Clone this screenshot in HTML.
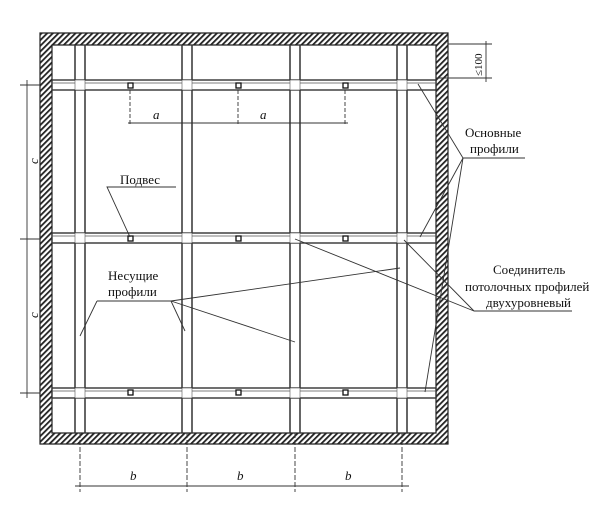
<!DOCTYPE html>
<html><head><meta charset="utf-8"><style>body{margin:0;background:#fff}svg{display:block}</style></head>
<body>
<svg width="608" height="508" viewBox="0 0 608 508" xmlns="http://www.w3.org/2000/svg" font-family="Liberation Serif, serif">
<defs>
<pattern id="h" width="4" height="4" patternUnits="userSpaceOnUse" patternTransform="rotate(45)">
<rect width="4" height="4" fill="#fff"/><rect width="1.8" height="4" fill="#222"/></pattern>
</defs>
<path d="M40 33H448V444H40Z M52 45V433H436V45Z" fill="url(#h)" fill-rule="evenodd" stroke="#222" stroke-width="1.2"/>
<g stroke="#333" stroke-width="1.5" fill="none">
<line x1="75" y1="45" x2="75" y2="433"/><line x1="85" y1="45" x2="85" y2="433"/>
<line x1="182" y1="45" x2="182" y2="433"/><line x1="192" y1="45" x2="192" y2="433"/>
<line x1="290" y1="45" x2="290" y2="433"/><line x1="300" y1="45" x2="300" y2="433"/>
<line x1="397" y1="45" x2="397" y2="433"/><line x1="407" y1="45" x2="407" y2="433"/>
</g>
<g fill="#fff" stroke="#333" stroke-width="1.4">
<rect x="52" y="80" width="384" height="10"/>
<rect x="52" y="233" width="384" height="10"/>
<rect x="52" y="388" width="384" height="10"/>
</g>
<g stroke="#555" stroke-width="0.8">
<line x1="52" y1="83" x2="436" y2="83"/><line x1="52" y1="236" x2="436" y2="236"/><line x1="52" y1="391" x2="436" y2="391"/>
</g>
<g fill="#fff" stroke="#555" stroke-width="0.6">
<rect x="75" y="80" width="10" height="10"/><rect x="182" y="80" width="10" height="10"/><rect x="290" y="80" width="10" height="10"/><rect x="397" y="80" width="10" height="10"/>
<rect x="75" y="233" width="10" height="10"/><rect x="182" y="233" width="10" height="10"/><rect x="290" y="233" width="10" height="10"/><rect x="397" y="233" width="10" height="10"/>
<rect x="75" y="388" width="10" height="10"/><rect x="182" y="388" width="10" height="10"/><rect x="290" y="388" width="10" height="10"/><rect x="397" y="388" width="10" height="10"/>
</g>
<g fill="#fff" stroke="#111" stroke-width="1.3">
<rect x="128" y="83" width="5" height="5"/><rect x="236" y="83" width="5" height="5"/><rect x="343" y="83" width="5" height="5"/>
<rect x="128" y="236" width="5" height="5"/><rect x="236" y="236" width="5" height="5"/><rect x="343" y="236" width="5" height="5"/>
<rect x="128" y="390" width="5" height="5"/><rect x="236" y="390" width="5" height="5"/><rect x="343" y="390" width="5" height="5"/>
</g>
<g stroke="#333" stroke-width="0.9" fill="none">
<line x1="128" y1="123" x2="348" y2="123"/>
<line x1="130" y1="90" x2="130" y2="126" stroke-dasharray="4 2"/>
<line x1="238" y1="90" x2="238" y2="126" stroke-dasharray="4 2"/>
<line x1="345" y1="90" x2="345" y2="126" stroke-dasharray="4 2"/>
<line x1="27" y1="80" x2="27" y2="398"/>
<line x1="20" y1="85" x2="40" y2="85"/><line x1="20" y1="239" x2="40" y2="239"/><line x1="20" y1="393" x2="40" y2="393"/>
<line x1="75" y1="486" x2="409" y2="486"/>
<line x1="80" y1="433" x2="80" y2="492" stroke-dasharray="5 2"/>
<line x1="187" y1="433" x2="187" y2="492" stroke-dasharray="5 2"/>
<line x1="295" y1="433" x2="295" y2="492" stroke-dasharray="5 2"/>
<line x1="402" y1="433" x2="402" y2="492" stroke-dasharray="5 2"/>
<line x1="486" y1="41" x2="486" y2="82"/>
<line x1="448" y1="44" x2="492" y2="44"/><line x1="436" y1="78" x2="492" y2="78"/>
<polyline points="176,187 107,187 130,237"/>
<line x1="97" y1="301" x2="171" y2="301"/>
<line x1="97" y1="301" x2="80" y2="336"/>
<line x1="171" y1="301" x2="185" y2="331"/>
<line x1="171" y1="301" x2="295" y2="342"/>
<line x1="171" y1="301" x2="400" y2="268"/>
<line x1="463" y1="158" x2="525" y2="158"/>
<line x1="463" y1="158" x2="418" y2="84"/>
<line x1="463" y1="158" x2="420" y2="237"/>
<line x1="463" y1="158" x2="425" y2="392"/>
<line x1="474" y1="311" x2="572" y2="311"/>
<line x1="474" y1="311" x2="295" y2="239"/>
<line x1="474" y1="311" x2="404" y2="240"/>
</g>
<g font-size="13" fill="#111">
<text x="153" y="119" font-style="italic">a</text>
<text x="260" y="119" font-style="italic">a</text>
<text x="130" y="480" font-style="italic">b</text>
<text x="237" y="480" font-style="italic">b</text>
<text x="345" y="480" font-style="italic">b</text>
<text transform="translate(38,164) rotate(-90)" font-style="italic">c</text>
<text transform="translate(38,318) rotate(-90)" font-style="italic">c</text>
<text transform="translate(482,76) rotate(-90)" font-size="11">≤100</text>
<text x="120" y="184">Подвес</text>
<text x="108" y="280">Несущие</text>
<text x="108" y="296">профили</text>
<text x="465" y="137">Основные</text>
<text x="470" y="153">профили</text>
<text x="493" y="274">Соединитель</text>
<text x="465" y="291">потолочных профилей</text>
<text x="486" y="307">двухуровневый</text>
</g>
</svg>
</body></html>
